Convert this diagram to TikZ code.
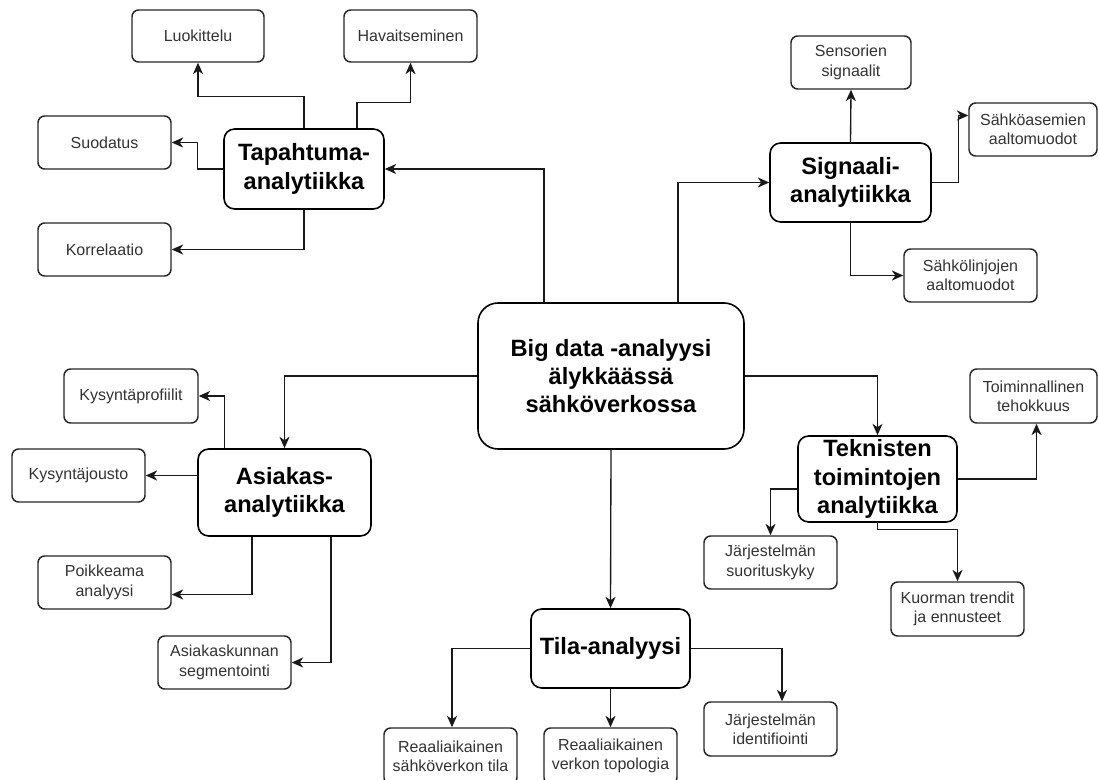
\documentclass[tikz,border=0pt]{standalone}
\usepackage{fontspec}
\setmainfont{Liberation Sans}
\usetikzlibrary{arrows.meta,calc}
\tikzset{
  px/.style={x=0.75pt,y=-0.75pt},
  sbox/.style 2 args={draw=black!85, line width=1.1pt, rounded corners=5pt, fill=white,
    minimum width=#1*0.75pt, minimum height=#2*0.75pt, inner sep=0pt, align=center,
    text=black!80, font=\fontsize{12pt}{14.5pt}\selectfont},
  bbox/.style 2 args={draw=black, line width=1.2pt, rounded corners=8pt, fill=white,
    minimum width=#1*0.75pt, minimum height=#2*0.75pt, inner sep=0pt, align=center,
    font=\fontsize{17.7pt}{21.2pt}\selectfont\bfseries},
  conn/.style={draw=black!90, line width=1pt, -{Stealth[length=8.5pt,width=7.5pt,inset=2.5pt]}}
}
\begin{document}
\begin{tikzpicture}[px]
\useasboundingbox (0,0) rectangle (1099,780);
\clip (0,0) rectangle (1099,780);
\fill[white] (0,0) rectangle (1099,780);

% central node
\node[bbox={266}{146}, rounded corners=15pt] (c) at (611,376) {Big data -analyysi\\älykkäässä\\sähköverkossa};

% main topics
\node[bbox={160}{80}] (tap) at (304,169) {Tapahtuma-\\analytiikka};
\node[bbox={161}{79}] (sig) at (850.5,182.5) {Signaali-\\analytiikka};
\node[bbox={173}{87}] (asi) at (284.5,492.5) {Asiakas-\\analytiikka};
\node[bbox={159}{86}] (tek) at (877.5,479) {Teknisten\\toimintojen\\analytiikka};
\node[bbox={159}{79}] (tila) at (610.5,648.5) {Tila-analyysi};

% leaves
\node[sbox={132}{52}] (luo) at (198,36) {Luokittelu};
\node[sbox={133}{52}] (hav) at (410.5,36) {Havaitseminen};
\node[sbox={133}{53}] (suo) at (104.5,142.5) {Suodatus};
\node[sbox={133}{53}] (kor) at (104.5,249.5) {Korrelaatio};
\node[sbox={120}{53}] (sen) at (851,62.5) {Sensorien\\signaalit};
\node[sbox={128}{53}] (sah) at (1033,129.5) {Sähköasemien\\aaltomuodot};
\node[sbox={133}{53}] (lin) at (970.5,275.5) {Sähkölinjojen\\aaltomuodot};
\node[sbox={134}{54}] (kp) at (131,396) {Kysyntäprofiilit};
\node[sbox={133}{53}] (kj) at (78.5,475.5) {Kysyntäjousto};
\node[sbox={133}{53}] (poi) at (104.5,582.5) {Poikkeama\\analyysi};
\node[sbox={133}{53}] (seg) at (224.5,662.5) {Asiakaskunnan\\segmentointi};
\node[sbox={127}{54}] (toi) at (1033.5,396) {Toiminnallinen\\tehokkuus};
\node[sbox={133}{53}] (jsk) at (770.5,562.5) {Järjestelmän\\suorituskyky};
\node[sbox={133}{54}] (kuo) at (957.5,609) {Kuorman trendit\\ja ennusteet};
\node[sbox={133}{54}] (jid) at (770.5,729) {Järjestelmän\\identifiointi};
\node[sbox={133}{56}] (rst) at (450.5,756) {Reaaliaikainen\\sähköverkon tila};
\node[sbox={133}{56}] (rvt) at (610.5,756) {Reaaliaikainen\\verkon topologia};

% connectors: Tapahtuma
\draw[conn] (tap.north) -- ++(0,-32) -| (luo.south);
\draw[conn] ($(tap.north)+(53,0)$) -- ++(0,-26) -| (hav.south);
\draw[conn] (tap.west) -- ++(-26,0) |- (suo.east);
\draw[conn] (tap.south) |- (kor.east);
% central to main topics
\draw[conn] ($(c.north)+(-67,0)$) |- (tap.east);
\draw[conn] ($(c.north)+(67,0)$) |- (sig.west);
\draw[conn] (c.west) -| (asi.north);
\draw[conn] (c.east) -| (tek.north);
\draw[conn] (c.south) -- (tila.north);
% Signaali
\draw[conn] (sig.north) -- (sen.south);
\draw[conn] (sig.east) -- ++(27,0) |- ($(sah.west)+(0,-14)$);
\draw[conn] (sig.south) |- (lin.west);
% Asiakas
\draw[conn] ($(asi.north)+(-60,0)$) |- (kp.east);
\draw[conn] (asi.west |- kj.east) -- (kj.east);
\draw[conn] ($(asi.south)+(-32.5,0)$) |- ($(poi.east)+(0,12)$);
\draw[conn] ($(asi.south)+(46.5,0)$) |- (seg.east);
% Teknisten
\draw[conn] (tek.east) -| ($(toi.south)+(3,0)$);
\draw[conn] ($(tek.west)+(0,10)$) -| (jsk.north);
\draw[conn] (tek.south) -- ++(0,7) -| (kuo.north);
% Tila
\draw[conn] (tila.west) -| ($(rst.north)+(1.5,0)$);
\draw[conn] (tila.south) -- (rvt.north);
\draw[conn] (tila.east) -| ($(jid.north)+(11.5,0)$);
\end{tikzpicture}
\end{document}
